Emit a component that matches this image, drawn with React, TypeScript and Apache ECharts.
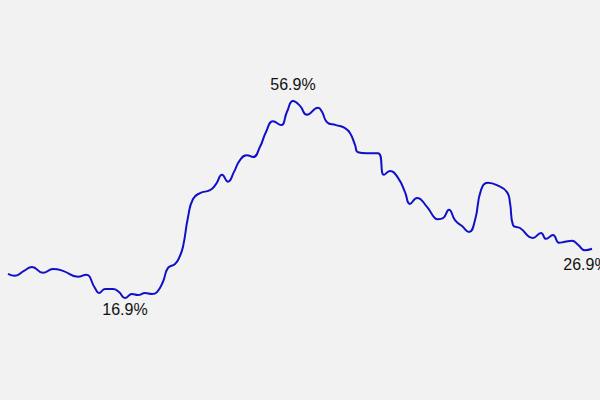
import React, { useEffect, useRef } from "react";
import * as echarts from "echarts";

// x positions (time steps) and values (%)
const steps: number[] = [
  0, 7, 16, 24, 35, 45, 55, 70, 78, 87, 91, 97, 105, 111, 117, 124, 130, 137, 144,
  149, 155, 160, 167, 171, 175, 180, 185, 192, 202, 208, 214, 220, 226, 232, 239,
  245, 252, 258, 265, 273, 279, 285, 292, 299, 310, 314, 319, 328, 337, 342, 347,
  350, 359, 370, 376, 382, 390, 397, 402, 409, 419, 427, 430, 435, 441, 447, 454,
  461, 467, 473, 480, 489, 499, 502, 505, 512, 525, 533, 538, 545, 551, 557, 564,
  570, 577, 584,
];
const values: number[] = [
  21.8, 21.4, 22.4, 23.2, 22.0, 22.8, 22.4, 21.2, 21.6, 18.9, 17.9, 18.7, 18.7,
  18.1, 16.9, 17.7, 17.5, 17.9, 17.7, 18.1, 20.2, 23.0, 23.8, 25.0, 27.3, 33.3,
  37.0, 38.2, 38.8, 40.0, 41.9, 40.5, 42.5, 44.9, 45.9, 45.5, 47.6, 50.6, 52.8,
  52.0, 54.7, 56.9, 55.9, 54.1, 55.5, 54.7, 52.6, 52.0, 51.4, 50.4, 48.0, 46.5,
  46.3, 46.3, 41.9, 42.7, 41.3, 38.4, 36.0, 37.2, 35.4, 33.1, 32.9, 33.1, 34.8,
  32.7, 31.5, 30.3, 32.7, 38.8, 40.3, 39.8, 38.4, 36.2, 31.7, 31.1, 29.1, 30.1,
  28.9, 29.7, 28.1, 28.3, 28.5, 27.7, 26.6, 26.9,
];

export default function App() {
  const ref = useRef<HTMLDivElement>(null);
  useEffect(() => {
    if (!ref.current) return;
    document.body.style.background = "#f2f2f2";
    const chart = echarts.init(ref.current, null, { renderer: "svg" });
    let minI = 0;
    let maxI = 0;
    values.forEach((v, i) => {
      if (v < values[minI]) minI = i;
      if (v > values[maxI]) maxI = i;
    });
    const lastI = values.length - 1;
    const labelBase = {
      show: true,
      formatter: (p: any) => p.value[1].toFixed(1) + "%",
      color: "#111111",
      fontSize: 16,
      fontFamily: "Liberation Sans, Arial, sans-serif",
    };
    const data = steps.map((s, i) => {
      const item: any = { value: [s, values[i]] };
      if (i === minI) item.label = { ...labelBase, position: "bottom", distance: 4 };
      if (i === maxI) item.label = { ...labelBase, position: "top", distance: 8 };
      if (i === lastI)
        item.label = { ...labelBase, position: "bottom", distance: 8, offset: [-6, 0] };
      return item;
    });
    chart.setOption({
      animation: false,
      backgroundColor: "#f2f2f2",
      grid: { left: 8, right: 8, top: 85.7, height: 295.5 },
      xAxis: { type: "value", min: 0, max: 584, show: false },
      yAxis: { type: "value", min: 0, max: 60, show: false },
      series: [
        {
          type: "line",
          data,
          smooth: 0.5,
          symbol: "circle",
          symbolSize: 0,
          showSymbol: true,
          lineStyle: { color: "#1010c8", width: 2 },
          itemStyle: { color: "#1010c8" },
          label: { show: false },
        },
      ],
    });
    return () => chart.dispose();
  }, []);
  return (
    <div
      ref={ref}
      style={{ position: "fixed", left: 0, top: 0, width: 600, height: 400 }}
    />
  );
}
